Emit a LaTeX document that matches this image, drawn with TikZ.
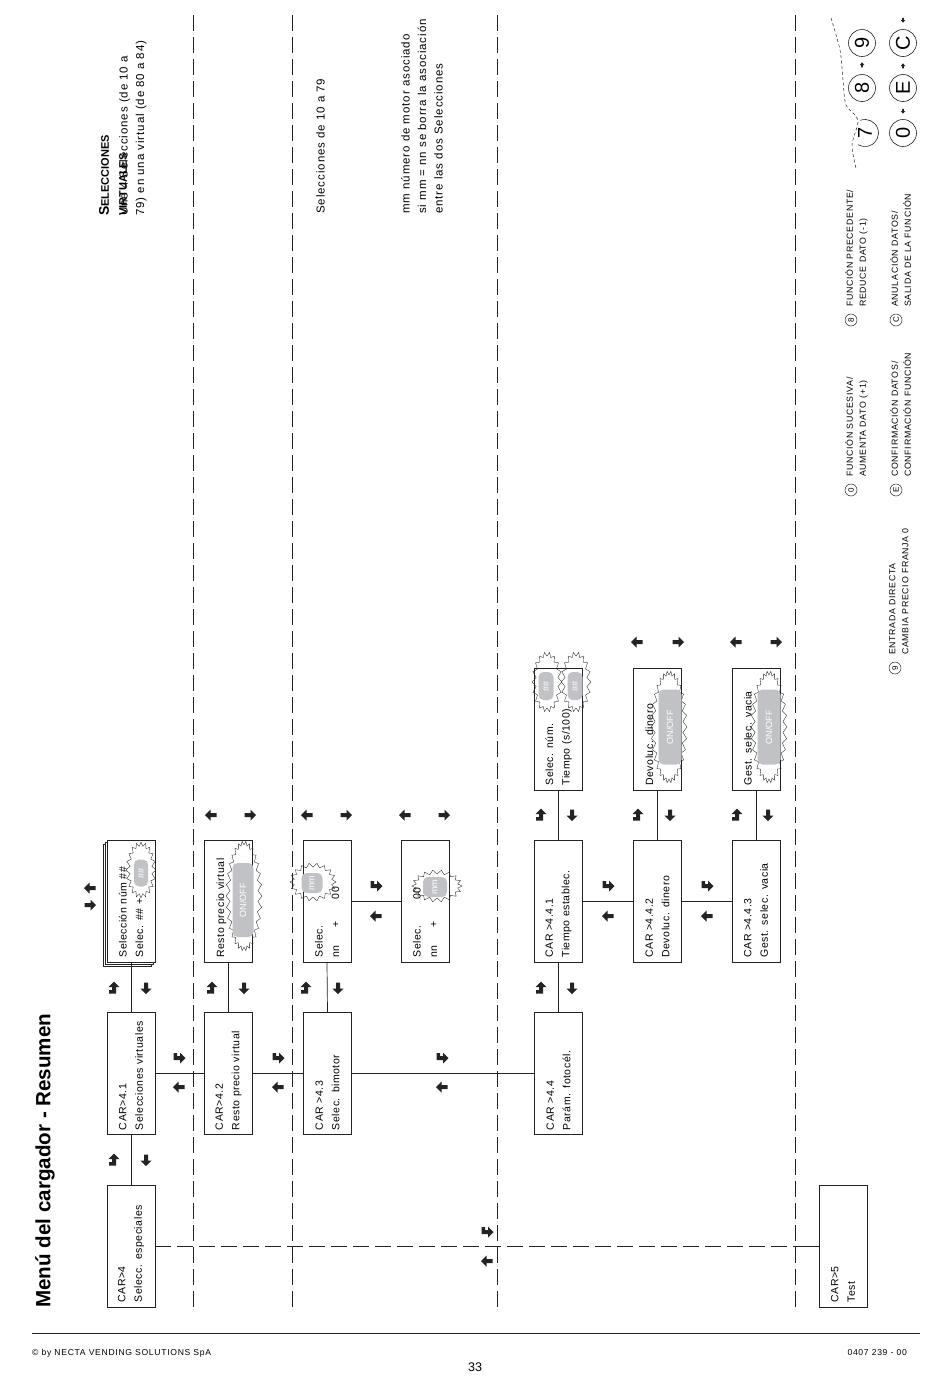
\documentclass[tikz,border=0pt]{standalone}
\usepackage{fontspec}
\setmainfont{Liberation Sans}
\newfontfamily\boxfont[LetterSpace=5]{Liberation Sans}
\newfontfamily\notefont[LetterSpace=8]{Liberation Sans}
\usetikzlibrary{positioning}
\definecolor{inkcol}{RGB}{35,35,35}
\definecolor{pillgray}{RGB}{192,194,197}

% zigzag burst: centre x, centre y, x radius, y radius, points+1
\newcommand{\burst}[5]{%
  \draw[burstline] plot[samples=#5, domain=0:360, variable=\t]
    ({#1+(#3-4*mod(round(\t/360*(#5-1)),2))*cos(\t)},
     {#2+(#4-4*mod(round(\t/360*(#5-1)),2))*sin(\t)}) -- cycle;}

\tikzset{
  back/.pic = {\fill[inkcol] (6,0) -- (0.5,-5.5) -- (0.5,-2) -- (-5.5,-2)
                -- (-5.5,2) -- (0.5,2) -- (0.5,5.5) -- cycle;},
  fwd/.pic  = {\fill[inkcol] (6.5,0) -- (1,-5.5) -- (1,-2) -- (-2,-2) -- (-2,-5)
                -- (-5.5,-5) -- (-5.5,2) -- (1,2) -- (1,5.5) -- cycle;},
  tiny/.pic = {\fill[inkcol] (3,0) -- (0,-2.5) -- (0,-1) -- (-2.5,-1) -- (-2.5,1)
                -- (0,1) -- (0,2.5) -- cycle;},
}

\begin{document}
\begin{tikzpicture}[x=1pt, y=-1pt,
    menubox/.style   = {draw=inkcol, line width=0.8pt, fill=white, rotate=90,
                        minimum width=122pt, minimum height=48pt, inner sep=0pt,
                        text width=113pt, align=left,
                        font=\boxfont\fontsize{10.5}{16.5}\selectfont},
    link/.style      = {draw=inkcol, line width=0.7pt},
    sepline/.style   = {draw=inkcol, line width=0.7pt, dash pattern=on 16pt off 6pt},
    burstline/.style = {draw=inkcol, line width=0.35pt},
    pill/.style      = {fill=pillgray, rounded corners=5pt, rotate=90, inner sep=0pt,
                        text=white, font=\fontsize{9}{9}\selectfont},
    note/.style      = {rotate=90, anchor=north west, inner sep=0pt, align=left,
                        font=\notefont\fontsize{11.5}{16.5}\selectfont},
    legend/.style    = {rotate=90, anchor=north west, inner sep=0pt, align=left,
                        font=\notefont\fontsize{8.8}{13}\selectfont},
    keyring/.style   = {draw=inkcol, line width=0.5pt, circle, minimum size=12pt,
                        inner sep=0pt, rotate=90, font=\fontsize{8}{8}\selectfont},
    keybig/.style    = {draw=inkcol, line width=0.6pt, circle, minimum size=27pt,
                        inner sep=0pt, rotate=90, font=\fontsize{20}{20}\selectfont},
  ]
\useasboundingbox (0,0) rectangle (950,1379);

% ---- title and footer
\node[rotate=90, anchor=west, inner sep=0pt, font=\bfseries\fontsize{20.6}{20}\selectfont]
  (title) at (45,1308) {Menú del cargador - Resumen};
\draw[link, line width=0.8pt] (32,1333) -- (920,1333);
\node[anchor=west, inner sep=0pt, font=\notefont\fontsize{8.6}{9}\selectfont] (copy) at (32,1353)
  {© by NECTA VENDING SOLUTIONS SpA};
\node[anchor=east, inner sep=0pt, font=\notefont\fontsize{8.6}{9}\selectfont] (code) at (907,1353)
  {0407 239 - 00};
\node[inner sep=0pt, font=\fontsize{12.5}{12}\selectfont] (pagenum) at (475,1367) {33};

% ---- separators
\foreach \sx in {193,292,497,795}
  \draw[sepline] (\sx,15) -- (\sx,1310);

% ---- main level
\node[menubox] (car4)  at (131,1246)   {CAR>4\\Selecc. especiales};
\node[menubox] (car41) at (131,1073.5) {CAR>4.1\\Selecciones virtuales};
\node[menubox] (car42) at (228.5,1073.5) {CAR>4.2\\Resto precio virtual};
\node[menubox] (car43) at (327.5,1073.5) {CAR >4.3\\Selec. bimotor};
\node[menubox] (car44) at (558.5,1073.5) {CAR >4.4\\Parám. fotocél.};
\node[menubox] (car5)  at (843,1246)   {CAR>5\\Test};

% ---- second level
\draw[inkcol, fill=white, line width=0.6pt] (103,844) rectangle (151,966);
\draw[inkcol, fill=white, line width=0.6pt] (105,842) rectangle (153,964);
\node[menubox] (selnum)    at (131,901)   {Selección núm \#\#\\Selec. \#\# +};
\node[menubox] (restovirt) at (228.5,901) {Resto precio virtual\\\mbox{}};
\node[menubox] (bimotA)    at (327,901)   {Selec.\\nn\hspace{18pt}+\hspace{22pt}00};
\node[menubox] (bimotB)    at (425,901)   {Selec.\hspace{26pt}00\\nn\hspace{18pt}+};
\node[menubox] (car441)    at (558.5,901) {CAR >4.4.1\\Tiempo establec.};
\node[menubox] (car442)    at (657.5,901) {CAR >4.4.2\\Devoluc. dinero};
\node[menubox] (car443)    at (756,901)   {CAR >4.4.3\\Gest. selec. vacia};

% ---- third level
\node[menubox] (tiempo)    at (558.5,729) {Selec. núm.\\Tiempo (s/100)};
\node[menubox] (devoluc)   at (657.5,729) {Devoluc. dinero\\\mbox{}};
\node[menubox] (gestvacia) at (756,729)   {Gest. selec. vacia\\\mbox{}};

% ---- connectors
\draw[link] (car4.east)   -- (car41.west);
\draw[link] (car41.east)  -- (selnum.west);
\draw[link] (car42.east)  -- (restovirt.west);
\draw[link] (car43.east)  -- (bimotA.west);
\draw[link] (car44.east)  -- (car441.west);
\draw[link] (car441.east) -- (tiempo.west);
\draw[link] (car442.east) -- (devoluc.west);
\draw[link] (car443.east) -- (gestvacia.west);
\draw[link] (car41.south) -- (car42.north);
\draw[link] (car42.south) -- (car43.north);
\draw[link] (car43.south) -- (car44.north);
\draw[link] (bimotA.south) -- (bimotB.north);
\draw[link] (car441.south) -- (car442.north);
\draw[link] (car442.south) -- (car443.north);
\coordinate (gate5) at (795,1246);
\draw[sepline] (car4.south) -- (gate5);
\draw[link] (gate5) -- (car5.north);

% ---- bursts and blinking fields
\burst{141}{870}{15}{28}{41}
\node[pill, minimum width=27pt, minimum height=14pt] (pill1) at (141,873) {\#\#};
\burst{244}{896}{18}{55}{61}
\node[pill, minimum width=74pt, minimum height=21pt] (pill2) at (243,900) {ON/OFF};
\burst{313}{882}{23}{19}{37}
\node[pill, minimum width=20pt, minimum height=21pt] (pill3) at (312,883) {mm};
\burst{437}{886}{25}{16}{37}
\node[pill, minimum width=20pt, minimum height=24pt] (pill4) at (435,887) {mm};
\burst{547}{682}{15}{30}{37}
\node[pill, minimum width=28pt, minimum height=15pt] (pill5) at (546,686) {\#\#};
\burst{576}{682}{15}{30}{37}
\node[pill, minimum width=28pt, minimum height=15pt] (pill6) at (575,686) {\#\#};
\burst{669}{727}{18}{56}{61}
\node[pill, minimum width=75pt, minimum height=23pt] (pill7) at (670,727) {ON/OFF};
\burst{769}{727}{18}{56}{61}
\node[pill, minimum width=75pt, minimum height=23pt] (pill8) at (769,727) {ON/OFF};

% ---- key arrows on vertical links
\foreach \ax/\ay in {114/1160, 114/988, 212/988, 306/988, 541/988,
                     541/815, 638/815, 737/815}
  \pic[rotate=90] at (\ax,\ay) {fwd};
\foreach \ax/\ay in {146/1160, 146/988, 244/988, 338/988, 572/988,
                     572/815, 670/815, 768/815}
  \pic[rotate=-90] at (\ax,\ay) {back};
% ---- key arrows on horizontal links
\foreach \ax/\ay in {179/1058, 278/1058, 442/1058, 487/1232,
                     376/886, 608/886, 707/886}
  \pic at (\ax,\ay) {fwd};
\foreach \ax/\ay in {179/1087, 278/1087, 442/1087, 487/1261,
                     376/916, 608/916, 707/916}
  \pic[rotate=180] at (\ax,\ay) {back};
% ---- value arrows
\foreach \ax/\ay in {90/888, 211/815, 307/815, 405/815, 637/642, 736/642}
  \pic[rotate=180] at (\ax,\ay) {back};
\foreach \ax/\ay in {90/905, 250/815, 346/815, 444/815, 678/642, 776/642}
  \pic at (\ax,\ay) {back};

% ---- notes
\node[note, font=\bfseries\fontsize{14}{14}\selectfont] (virthead) at (99,216)
  {S{\fontsize{11}{11}\selectfont ELECCIONES}};
\node[note, font=\bfseries\fontsize{11}{11}\selectfont] (virthead2) at (119,216)
  {VIRTUALES};
\node[note] (virtnote) at (119,216)
  {Une 4 Selecciones (de 10 a\\79) en una virtual (de 80 a 84)};
\node[note] (rangenote) at (316,214) {Selecciones de 10 a 79};
\node[note] (motornote) at (401,214)
  {mm número de motor asociado\\si mm = nn se borra la asociación\\entre las dos Selecciones};

% ---- legend
\node[keyring] (k9) at (895,668) {9};
\node[legend] (l9) at (889,655) {ENTRADA DIRECTA\\CAMBIA PRECIO FRANJA 0};
\node[keyring] (k0) at (851,490) {0};
\node[legend] (l0) at (845,477) {FUNCIÓN SUCESIVA/\\AUMENTA DATO (+1)};
\node[keyring] (kE) at (896,490) {E};
\node[legend] (lE) at (890,477) {CONFIRMACIÓN DATOS/\\CONFIRMACIÓN FUNCIÓN};
\node[keyring] (k8) at (851,320) {8};
\node[legend] (l8) at (845,307) {FUNCIÓN PRECEDENTE/\\REDUCE DATO (-1)};
\node[keyring] (kC) at (896,320) {C};
\node[legend] (lC) at (890,307) {ANULACIÓN DATOS/\\SALIDA DE LA FUNCIÓN};

% ---- keypad sketch
\node[keybig] (pad9) at (862,43) {9};
\node[keybig] (pad8) at (862,88) {8};
\draw[inkcol, line width=0.6pt] (865,133) ++(-110:13.5) arc (-110:120:13.5);
\node[rotate=90, inner sep=0pt, font=\fontsize{20}{20}\selectfont] (pad7) at (865,133) {7};
\node[keybig] (padC) at (903,43) {C};
\node[keybig] (padE) at (903,88) {E};
\node[keybig] (pad0) at (903,133) {0};
\pic[scale=0.9, rotate=90] at (862,65) {tiny};
\pic[scale=0.9, rotate=-90] at (903,111) {tiny};
\pic[scale=0.9, rotate=90] at (903,66) {tiny};
\pic[scale=0.9, rotate=-90] at (903,20) {tiny};
\draw[inkcol, line width=0.5pt, dash pattern=on 3pt off 2.5pt]
  plot[smooth] coordinates {(831,18) (840,50) (843,80) (846,105) (858,120)
                            (852,145) (856,168)};
\end{tikzpicture}
\end{document}
